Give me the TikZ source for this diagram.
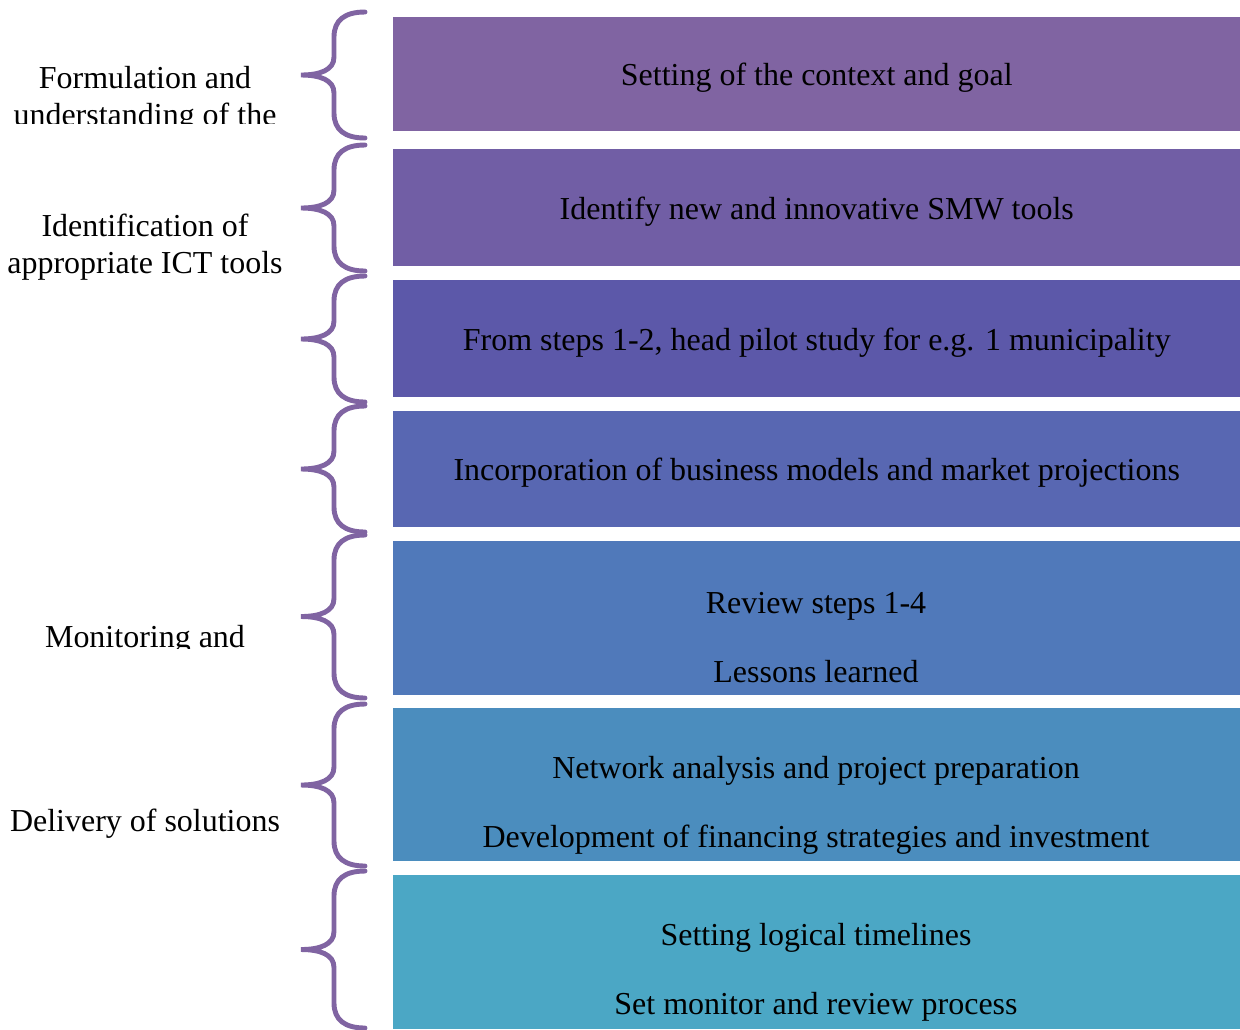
\documentclass[tikz,border=0pt]{standalone}
\usepackage{fontspec}
\setmainfont{Liberation Serif}
\definecolor{braceC}{RGB}{128,100,162}
\definecolor{stepA}{RGB}{128,100,162}
\definecolor{stepB}{RGB}{113,94,165}
\definecolor{stepC}{RGB}{92,88,169}
\definecolor{stepD}{RGB}{88,103,178}
\definecolor{stepE}{RGB}{80,121,186}
\definecolor{stepF}{RGB}{75,141,190}
\definecolor{stepG}{RGB}{75,167,197}

\begin{document}
\begin{tikzpicture}[x=0.02cm,y=-0.02cm,
  stage/.style={rectangle, anchor=north west, inner sep=0pt, minimum width=16.94cm},
  txt/.style={font=\fontsize{18.2}{21}\selectfont, align=center, inner sep=0pt, yshift=-0.07cm},
  curly/.style={draw=braceC, line width=2.8pt, line cap=round}]
  \useasboundingbox (0,0) rectangle (1240,1029);

  % Define blocks
  \node [stage, fill=stepA, minimum height=2.28cm] (s1) at (393,17) {};
  \node [stage, fill=stepB, minimum height=2.34cm] (s2) at (393,149) {};
  \node [stage, fill=stepC, minimum height=2.34cm] (s3) at (393,280) {};
  \node [stage, fill=stepD, minimum height=2.32cm] (s4) at (393,411) {};
  \node [stage, fill=stepE, minimum height=3.08cm] (s5) at (393,541) {};
  \node [stage, fill=stepF, minimum height=3.06cm] (s6) at (393,708) {};
  \node [stage, fill=stepG, minimum height=3.08cm] (s7) at (393,875) {};

  % Texts in the blocks
  \node [txt] (t1) at (s1.center) {Setting of the context and goal};
  \node [txt] (t2) at (s2.center) {Identify new and innovative SMW tools};
  \node [txt] (t3) at (s3.center) {From steps 1-2, head pilot study for e.g. 1 municipality};
  \node [txt] (t4) at (s4.center) {Incorporation of business models and market projections};
  \node [txt] (t5) at (816,634) {Review steps 1-4\\[18pt]Lessons learned};
  \node [txt] (t6) at (816,802) {Network analysis and project preparation\\[18pt]Development of financing strategies and investment};
  \node [txt] (t7) at (816,969) {Setting logical timelines\\[18pt]Set monitor and review process};

  % Braces
  \foreach \t/\b in {12/138, 145/271, 276/402, 406/532, 535/698, 704/866, 871/1028}{
    \pgfmathsetmacro{\m}{(\t+\b)/2}
    \draw [curly] (365,\t) .. controls (345,\t) and (334,\t+8) .. (334,\t+25)
      -- (334,\m-18) .. controls (334,\m-5) and (320,\m) .. (301,\m)
      .. controls (320,\m) and (334,\m+5) .. (334,\m+18)
      -- (334,\b-25) .. controls (334,\b-8) and (345,\b) .. (365,\b);
  }

  % Phase labels
  \begin{scope}
    \clip (0,0) rectangle (300,123);
    \node [txt] (l1) at (145,96) {Formulation and\\understanding of the};
  \end{scope}
  \node [txt] (l2) at (145,244) {Identification of\\appropriate ICT tools};
  \begin{scope}
    \clip (0,600) rectangle (300,648);
    \node [txt] (l3) at (145,636) {Monitoring and};
  \end{scope}
  \node [txt] (l4) at (145,820) {Delivery of solutions};
\end{tikzpicture}
\end{document}
